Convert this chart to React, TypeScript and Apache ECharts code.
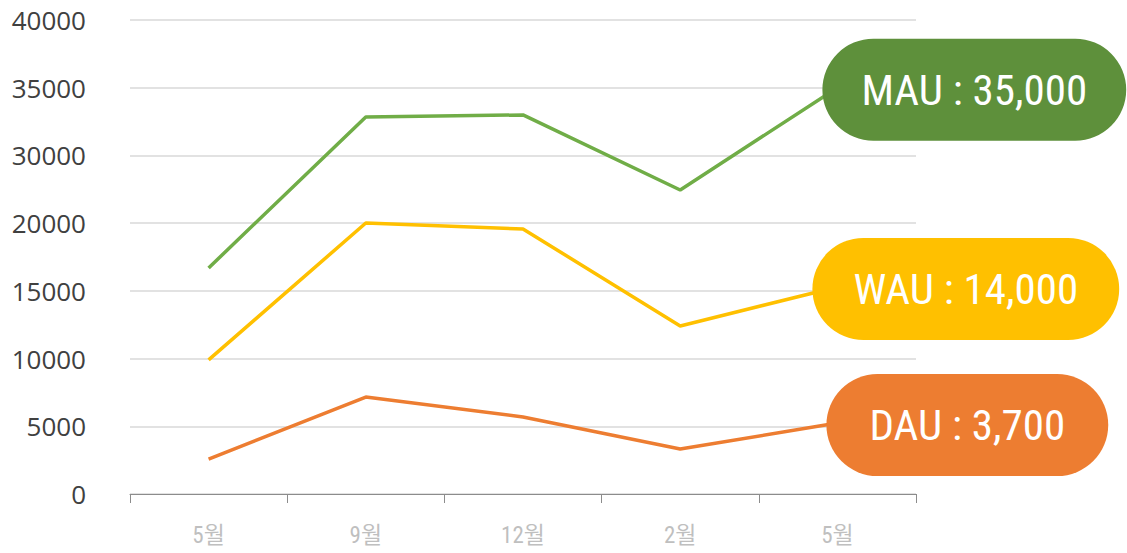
import React, { useEffect, useRef } from "react";
import * as echarts from "echarts";

// Categories (months)
const months = ["5월", "9월", "12월", "2월", "5월"];

// Y-axis tick labels as printed on the chart (one per grid step)
const yTickLabels = ["0", "5000", "10000", "15000", "20000", "30000", "35000", "40000"];
const yStep = 5000; // axis units per grid step

// Series values in axis units
const mau = [16690, 27840, 27990, 22450, 30000];
const wau = [9900, 20010, 19570, 12410, 15290];
const dau = [2580, 7160, 5690, 3320, 5240];

const seriesNames = ["MAU", "WAU", "DAU"];
const endLabels = ["MAU : 35,000", "WAU : 14,000", "DAU : 3,700"];

const lineColors = ["#70AD47", "#FFC000", "#ED7D31"];
const bubbleColors = ["#5E903B", "#FFC000", "#ED7D31"];
const labelOffsets = [-20, -30, -16];
const bubblePadX = [39, 41, 43];

export default function App() {
  const ref = useRef<HTMLDivElement>(null);

  useEffect(() => {
    document.body.style.margin = "0";
    if (!ref.current) return;
    const chart = echarts.init(ref.current, undefined, { renderer: "svg" });
    const dataSets = [mau, wau, dau];
    const bubbleFont = "'Roboto Condensed', 'Liberation Sans Narrow', Roboto, sans-serif";
    chart.setOption({
      animation: false,
      backgroundColor: "#ffffff",
      grid: { left: 130, right: 211, top: 20, bottom: 59, containLabel: false },
      xAxis: {
        type: "category",
        data: months,
        boundaryGap: true,
        axisLine: { show: true, lineStyle: { color: "#8C8C8C", width: 1 } },
        axisTick: { show: true, length: 9, lineStyle: { color: "#8C8C8C" } },
        axisLabel: {
          color: "#BFBFBF",
          fontSize: 23,
          margin: 30,
          fontFamily: "'Roboto Condensed', 'Noto Sans CJK KR', sans-serif",
        },
        splitLine: { show: false },
      },
      yAxis: {
        type: "value",
        min: 0,
        max: yStep * (yTickLabels.length - 1),
        interval: yStep,
        axisLine: { show: false },
        axisTick: { show: false },
        axisLabel: {
          color: "#404040",
          fontSize: 26,
          margin: 44,
          fontFamily: "'Open Sans', 'Noto Sans', sans-serif",
          formatter: (v: number) => yTickLabels[Math.round(v / yStep)] ?? "",
        },
        splitLine: { show: true, lineStyle: { color: "#D9D9D9", width: 1.5 } },
      },
      series: dataSets.map((d, i) => ({
        name: seriesNames[i],
        type: "line",
        data: d,
        symbol: "none",
        lineStyle: { color: lineColors[i], width: 3.5 },
        itemStyle: { color: lineColors[i] },
        z: 2,
        endLabel: {
          show: true,
          formatter: () => endLabels[i],
          color: "#ffffff",
          fontSize: 43,
          lineHeight: 50,
          fontFamily: bubbleFont,
          backgroundColor: bubbleColors[i],
          borderRadius: 52,
          padding: [26, bubblePadX[i]],
          distance: 5,
          offset: [labelOffsets[i], 2],
        },
      })),
    });
    return () => chart.dispose();
  }, []);

  return <div ref={ref} style={{ width: 1127, height: 553 }} />;
}
